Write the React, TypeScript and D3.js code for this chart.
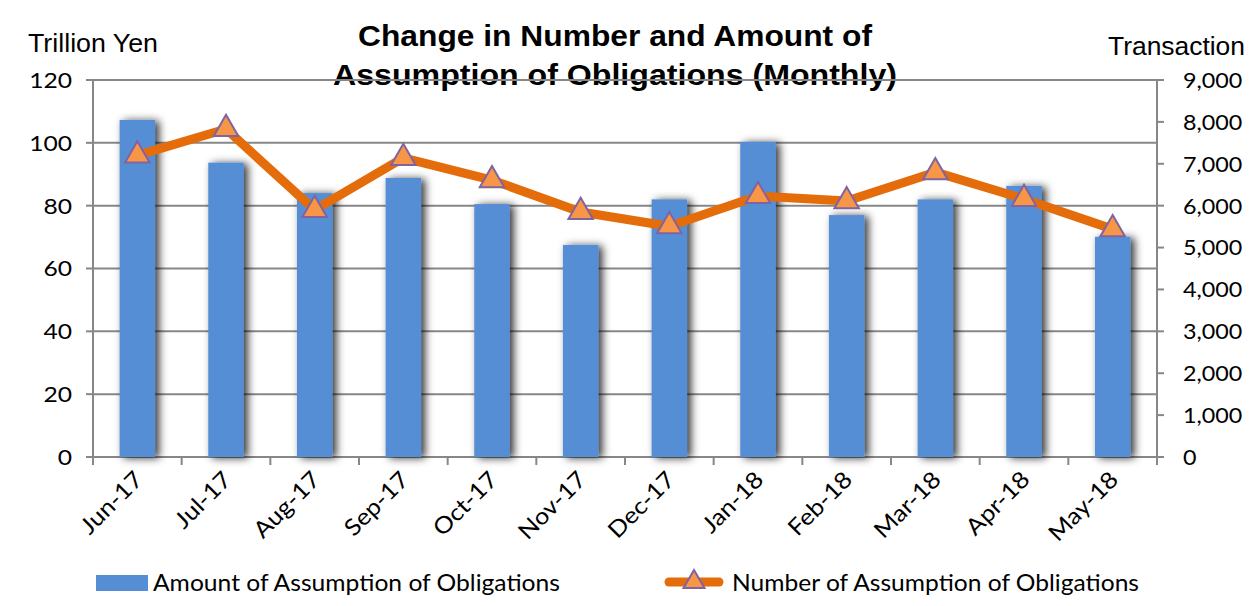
import React from 'react';
import * as d3 from 'd3';

const months = ['Jun-17', 'Jul-17', 'Aug-17', 'Sep-17', 'Oct-17', 'Nov-17', 'Dec-17', 'Jan-18', 'Feb-18', 'Mar-18', 'Apr-18', 'May-18'];
const amounts = [107.3, 93.7, 84, 88.8, 80.5, 67.5, 82, 100.3, 77, 82, 86.3, 70.1];
const counts = [7200, 7830, 5900, 7140, 6610, 5850, 5510, 6230, 6110, 6800, 6160, 5440];
const leftTicks = [0, 20, 40, 60, 80, 100, 120];
const rightTicks = [0, 1000, 2000, 3000, 4000, 5000, 6000, 7000, 8000, 9000];

const W = 1252;
const H = 606;
const margin = { top: 80, right: 95, bottom: 149, left: 93 };
const FONT = 'Lato, "Open Sans", sans-serif';
const ARIAL = '"Liberation Sans", Arial, sans-serif';
const AXIS = '#878787';

// widen text a little, the original font is a bit broader than Lato
function stretch(sel: d3.Selection<SVGTextElement, any, any, any>, k: number) {
  sel.each(function () {
    const len = this.getComputedTextLength();
    d3.select(this).attr('textLength', len * k).attr('lengthAdjust', 'spacingAndGlyphs');
  });
}

const App: React.FC = () => {
  const svgRef = React.useRef<SVGSVGElement>(null);

  React.useEffect(() => {
    if (!svgRef.current) return;
    const svg = d3.select(svgRef.current);
    svg.selectAll('*').remove();

    const cw = W - margin.left - margin.right;
    const ch = H - margin.top - margin.bottom;

    const defs = svg.append('defs');
    const f = defs.append('filter').attr('id', 'shadow').attr('x', '-40%').attr('y', '-40%').attr('width', '180%').attr('height', '180%');
    f.append('feDropShadow').attr('dx', 4).attr('dy', 1).attr('stdDeviation', 4)
      .attr('flood-color', '#000').attr('flood-opacity', 0.8);

    const x = d3.scaleBand().domain(months).range([0, cw]);
    const yL = d3.scaleLinear().domain([0, 120]).range([ch, 0]);
    const yR = d3.scaleLinear().domain([0, 9000]).range([ch, 0]);

    // titles
    const title = svg.append('g').attr('font-family', ARIAL).attr('font-weight', 'bold')
      .attr('font-size', 29).attr('fill', '#000');
    title.append('text').attr('x', 358).attr('y', 46).attr('textLength', 514)
      .attr('lengthAdjust', 'spacingAndGlyphs').text('Change in Number and Amount of');
    title.append('text').attr('x', 333).attr('y', 85).attr('textLength', 564)
      .attr('lengthAdjust', 'spacingAndGlyphs').text('Assumption of Obligations (Monthly)');

    svg.append('text').attr('x', 28).attr('y', 52).attr('textLength', 130).attr('lengthAdjust', 'spacingAndGlyphs')
      .attr('font-family', ARIAL).attr('font-size', 25).attr('fill', '#000').text('Trillion Yen');
    svg.append('text').attr('x', 1108).attr('y', 55).attr('textLength', 137).attr('lengthAdjust', 'spacingAndGlyphs')
      .attr('font-family', ARIAL).attr('font-size', 25).attr('fill', '#000').text('Transaction');

    const g = svg.append('g').attr('transform', `translate(${margin.left},${margin.top})`);

    // gridlines
    g.append('g').selectAll('line').data(leftTicks.filter(t => t > 0)).enter().append('line')
      .attr('x1', 0).attr('x2', cw)
      .attr('y1', d => yL(d)).attr('y2', d => yL(d))
      .attr('stroke', AXIS).attr('stroke-width', 2);

    // left axis
    g.append('line').attr('x1', 0).attr('x2', 0).attr('y1', 0).attr('y2', ch).attr('stroke', AXIS).attr('stroke-width', 2);
    g.append('g').selectAll('line').data(leftTicks).enter().append('line')
      .attr('x1', -7).attr('x2', 0).attr('y1', d => yL(d)).attr('y2', d => yL(d))
      .attr('stroke', AXIS).attr('stroke-width', 2);
    const lt = g.append('g').selectAll<SVGTextElement, number>('text').data(leftTicks).enter().append('text')
      .attr('x', -21).attr('y', d => yL(d)).attr('dy', '0.36em')
      .attr('text-anchor', 'end').attr('font-family', FONT).attr('font-size', 22)
      .attr('fill', '#000').text(d => d);
    stretch(lt, 1.12);

    // right axis
    g.append('line').attr('x1', cw).attr('x2', cw).attr('y1', 0).attr('y2', ch + 8).attr('stroke', AXIS).attr('stroke-width', 2);
    g.append('g').selectAll('line').data(rightTicks).enter().append('line')
      .attr('x1', cw).attr('x2', cw + 7).attr('y1', d => yR(d)).attr('y2', d => yR(d))
      .attr('stroke', AXIS).attr('stroke-width', 2);
    const rt = g.append('g').selectAll<SVGTextElement, number>('text').data(rightTicks).enter().append('text')
      .attr('x', cw + 26).attr('y', d => yR(d)).attr('dy', '0.36em')
      .attr('text-anchor', 'start').attr('font-family', FONT).attr('font-size', 22)
      .attr('fill', '#000').text(d => d3.format(',')(d));
    stretch(rt, 1.06);

    // bottom axis
    g.append('line').attr('x1', -7).attr('x2', cw).attr('y1', ch).attr('y2', ch).attr('stroke', AXIS).attr('stroke-width', 2);
    g.append('g').selectAll('line').data(d3.range(months.length + 1)).enter().append('line')
      .attr('x1', i => i * x.step()).attr('x2', i => i * x.step())
      .attr('y1', ch).attr('y2', ch + 8)
      .attr('stroke', AXIS).attr('stroke-width', 2);
    const xl = g.append('g').selectAll<SVGTextElement, string>('text').data(months).enter().append('text')
      .attr('transform', d => `translate(${(x(d) || 0) + x.bandwidth() / 2 + 7},${ch + 24}) rotate(-45)`)
      .attr('text-anchor', 'end').attr('font-family', FONT).attr('font-size', 23)
      .attr('fill', '#000').text(d => d);
    stretch(xl, 1.1);

    // bars
    const bw = x.bandwidth() * 0.4;
    g.append('g').attr('filter', 'url(#shadow)').selectAll('rect').data(amounts).enter().append('rect')
      .attr('x', (d, i) => (x(months[i]) || 0) + (x.bandwidth() - bw) / 2)
      .attr('y', d => yL(d))
      .attr('width', bw)
      .attr('height', d => ch - yL(d))
      .attr('fill', '#558ED5');

    // line
    const line = d3.line<number>()
      .x((d, i) => (x(months[i]) || 0) + x.bandwidth() / 2)
      .y(d => yR(d));
    g.append('path').datum(counts).attr('d', line)
      .attr('fill', 'none').attr('stroke', '#E46C0A').attr('stroke-width', 9)
      .attr('stroke-linejoin', 'round').attr('stroke-linecap', 'round');

    const tri = d3.symbol().type(d3.symbolTriangle).size(260);
    g.append('g').selectAll('path').data(counts).enter().append('path')
      .attr('d', tri)
      .attr('transform', (d, i) => `translate(${(x(months[i]) || 0) + x.bandwidth() / 2},${yR(d)})`)
      .attr('fill', '#F79646').attr('stroke', '#8064A2').attr('stroke-width', 2);

    // legend
    const lg = svg.append('g');
    lg.append('rect').attr('x', 96).attr('y', 575).attr('width', 52).attr('height', 16).attr('fill', '#558ED5');
    lg.append('text').attr('x', 153).attr('y', 591).attr('textLength', 407).attr('lengthAdjust', 'spacingAndGlyphs')
      .attr('font-family', FONT).attr('font-size', 23)
      .attr('fill', '#000').text('Amount of Assumption of Obligations');
    lg.append('line').attr('x1', 669).attr('x2', 719).attr('y1', 582).attr('y2', 582)
      .attr('stroke', '#E46C0A').attr('stroke-width', 9).attr('stroke-linecap', 'round');
    lg.append('path').attr('d', d3.symbol().type(d3.symbolTriangle).size(190)())
      .attr('transform', 'translate(694,582)')
      .attr('fill', '#F79646').attr('stroke', '#8064A2').attr('stroke-width', 2);
    lg.append('text').attr('x', 732).attr('y', 591).attr('textLength', 407).attr('lengthAdjust', 'spacingAndGlyphs')
      .attr('font-family', FONT).attr('font-size', 23)
      .attr('fill', '#000').text('Number of Assumption of Obligations');
  }, []);

  return (
    <svg ref={svgRef} width={W} height={H} viewBox={`0 0 ${W} ${H}`}
      style={{ position: 'absolute', left: 0, top: 0, background: '#fff' }} />
  );
};

export default App;
